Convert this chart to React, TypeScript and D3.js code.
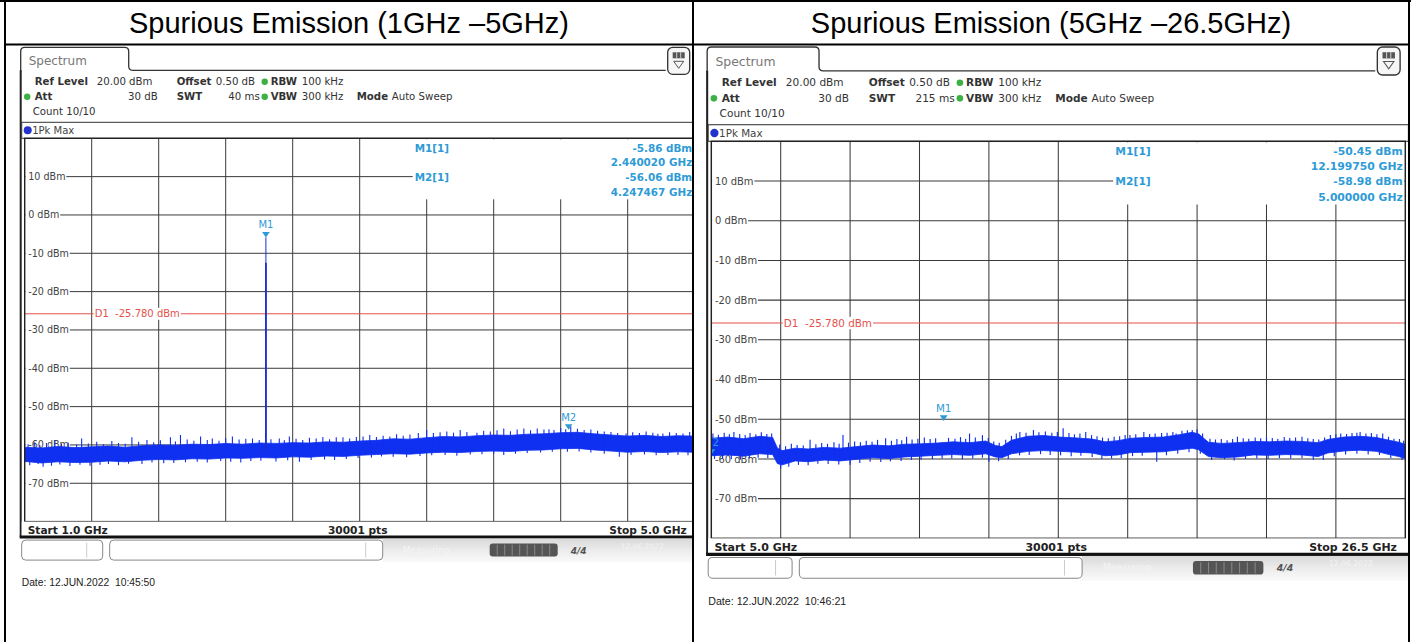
import React from "react";
import * as d3 from "d3";

// ---------------- data ----------------
const titles = ["Spurious Emission (1GHz \u20135GHz)", "Spurious Emission (5GHz \u201326.5GHz)"];
const yTickValues = [10, 0, -10, -20, -30, -40, -50, -60, -70];
const yTickLabels = ["10 dBm", "0 dBm", "-10 dBm", "-20 dBm", "-30 dBm", "-40 dBm", "-50 dBm", "-60 dBm", "-70 dBm"];
const refLevelDbm = 20;
const bottomDbm = -80;
const displayLineDbm = -25.78;
const displayLineLabel = "D1  -25.780 dBm";

// Left sweep 1–5 GHz
const leftSpan = [1.0, 5.0];
const leftBandFreq = [1.0, 1.1, 1.2, 1.3, 1.4, 1.5, 1.6, 1.7, 1.8, 1.9, 2.0, 2.1, 2.2, 2.3, 2.4, 2.5, 2.6, 2.7, 2.8, 2.9, 3.0, 3.1, 3.2, 3.3, 3.4, 3.5, 3.6, 3.7, 3.8, 3.9, 4.0, 4.1, 4.2, 4.3, 4.4, 4.5, 4.6, 4.7, 4.8, 4.9, 5.0];
const leftBandTop = [-60.6, -60.8, -60.4, -60.7, -60.5, -60.3, -60.6, -60.2, -60.0, -60.1, -59.8, -59.9, -59.6, -59.8, -59.5, -59.6, -59.4, -59.5, -59.2, -59.3, -59.0, -58.8, -58.4, -58.5, -58.1, -57.8, -57.9, -57.6, -57.4, -57.5, -57.2, -57.1, -56.8, -56.7, -57.1, -57.4, -57.7, -57.5, -57.8, -57.6, -57.7];
const leftBandBottom = [-64.3, -64.7, -64.4, -64.6, -64.5, -64.2, -64.4, -64.0, -63.8, -63.9, -63.6, -63.7, -63.4, -63.5, -63.3, -63.4, -63.1, -63.2, -62.9, -63.0, -62.7, -62.5, -62.3, -62.4, -62.1, -61.9, -62.0, -61.7, -61.6, -61.7, -61.4, -61.3, -61.0, -60.9, -61.3, -61.6, -61.9, -61.7, -62.0, -61.8, -61.9];
const leftUpFreq = [1.02, 1.06, 1.09, 1.13, 1.18, 1.22, 1.26, 1.31, 1.34, 1.38, 1.43, 1.47, 1.52, 1.56, 1.6, 1.64, 1.68, 1.73, 1.77, 1.81, 1.87, 1.9, 1.93, 1.97, 2.01, 2.05, 2.09, 2.12, 2.16, 2.2, 2.24, 2.28, 2.32, 2.36, 2.4, 2.47, 2.52, 2.55, 2.58, 2.62, 2.66, 2.7, 2.74, 2.78, 2.82, 2.86, 2.9, 2.94, 2.98, 3.02, 3.06, 3.1, 3.14, 3.18, 3.22, 3.26, 3.3, 3.35, 3.4, 3.44, 3.48, 3.52, 3.56, 3.6, 3.64, 3.7, 3.74, 3.78, 3.82, 3.86, 3.9, 3.94, 3.98, 4.02, 4.06, 4.1, 4.13, 4.16, 4.2, 4.23, 4.26, 4.3, 4.34, 4.38, 4.42, 4.46, 4.5, 4.54, 4.59, 4.63, 4.67, 4.71, 4.75, 4.78, 4.81, 4.85, 4.89, 4.93, 4.97];
const leftUpLevel = [-59.8, -59.3, -60.0, -59.5, -58.9, -59.7, -59.4, -59.9, -58.3, -59.6, -59.2, -59.8, -59.0, -59.5, -59.7, -58.0, -59.2, -58.7, -59.3, -58.8, -58.0, -59.1, -57.4, -58.6, -58.9, -57.8, -58.7, -58.3, -58.9, -58.2, -57.8, -58.6, -58.4, -58.3, -58.7, -58.5, -58.3, -58.8, -57.8, -58.4, -58.7, -58.1, -58.3, -57.9, -58.5, -58.0, -58.0, -58.3, -57.9, -57.8, -57.4, -57.9, -57.6, -57.8, -57.2, -57.6, -57.3, -56.9, -56.1, -56.9, -56.7, -56.5, -56.8, -56.1, -56.6, -56.8, -56.3, -56.5, -56.2, -55.7, -56.4, -56.0, -55.7, -56.2, -55.7, -56.0, -55.9, -56.1, -55.6, -55.9, -55.2, -55.8, -56.1, -56.0, -56.3, -56.5, -56.6, -56.9, -57.0, -56.7, -56.9, -56.5, -56.8, -57.1, -57.0, -56.7, -56.9, -57.0, -56.6];
const leftDownFreq = [1.03, 1.08, 1.11, 1.16, 1.21, 1.27, 1.33, 1.39, 1.45, 1.5, 1.56, 1.62, 1.7, 1.76, 1.83, 1.89, 1.96, 2.03, 2.09, 2.17, 2.23, 2.29, 2.35, 2.41, 2.5, 2.57, 2.64, 2.71, 2.79, 2.85, 2.92, 2.99, 3.07, 3.13, 3.2, 3.28, 3.36, 3.43, 3.51, 3.58, 3.66, 3.73, 3.8, 3.86, 3.93, 4.0, 4.08, 4.15, 4.24, 4.31, 4.38, 4.46, 4.55, 4.62, 4.7, 4.77, 4.84, 4.9, 4.96];
const leftDownLevel = [-65.3, -65.0, -65.7, -65.4, -65.1, -65.5, -65.2, -65.4, -65.2, -65.0, -65.3, -64.9, -65.0, -64.6, -64.8, -64.7, -64.5, -64.4, -64.6, -64.2, -64.4, -64.6, -64.2, -64.1, -64.3, -64.0, -64.4, -63.9, -63.8, -63.9, -63.7, -63.4, -63.3, -63.0, -63.1, -63.2, -62.9, -62.7, -62.6, -62.8, -62.5, -62.4, -62.3, -62.6, -62.3, -62.1, -62.0, -61.8, -61.8, -61.7, -62.0, -62.3, -63.1, -62.6, -62.5, -62.7, -62.6, -62.6, -62.7];
const leftPeakFreq = 2.44002;
const leftPeakLevel = -5.86;
const leftPeakShoulder = -12.5;
const leftMarkerFreq = [2.44002, 4.247467];
const leftMarkerLevel = [-5.86, -56.06];
const leftMarkerText = [["-5.86 dBm", "2.440020 GHz"], ["-56.06 dBm", "4.247467 GHz"]];

// Right sweep 5–26.5 GHz
const rightSpan = [5.0, 26.5];
const rightBandFreq = [5.0, 5.5, 6.0, 6.5, 6.9, 7.05, 7.2, 7.6, 8.0, 8.5, 9.0, 9.5, 10.0, 10.5, 11.0, 11.5, 12.0, 12.5, 13.0, 13.5, 13.8, 14.0, 14.3, 14.8, 15.3, 15.8, 16.3, 16.8, 17.2, 17.6, 18.0, 18.5, 19.0, 19.5, 19.9, 20.1, 20.4, 20.8, 21.3, 21.8, 22.3, 22.8, 23.3, 23.8, 24.1, 24.6, 25.1, 25.6, 26.0, 26.3, 26.5];
const rightBandTop = [-54.8, -54.5, -54.9, -54.3, -54.6, -57.3, -57.9, -57.3, -57.5, -57.1, -57.3, -56.9, -56.5, -56.7, -56.3, -56.2, -56.0, -55.7, -55.9, -55.5, -56.6, -56.9, -55.3, -54.3, -54.1, -54.5, -54.7, -55.0, -55.7, -55.4, -54.8, -54.6, -54.5, -53.9, -53.3, -53.7, -55.8, -56.1, -55.9, -55.6, -55.7, -55.5, -55.6, -55.9, -55.1, -54.5, -54.3, -54.6, -55.3, -55.8, -56.3];
const rightBandBottom = [-59.2, -59.0, -59.3, -58.7, -58.9, -61.2, -61.5, -60.5, -60.7, -60.3, -60.5, -60.1, -59.7, -59.9, -59.5, -59.3, -59.1, -58.9, -59.1, -58.7, -59.5, -59.7, -58.7, -58.1, -57.9, -58.1, -58.3, -58.5, -59.2, -59.0, -58.4, -58.3, -58.2, -57.7, -57.3, -57.7, -59.4, -59.7, -59.5, -59.0, -59.1, -58.9, -59.0, -59.4, -58.5, -58.0, -57.8, -58.1, -58.9, -59.4, -59.9];
const rightUpFreq = [5.05, 5.22, 5.4, 5.56, 5.7, 5.88, 6.05, 6.2, 6.38, 6.55, 6.72, 6.87, 7.12, 7.3, 7.48, 7.66, 7.85, 8.06, 8.24, 8.42, 8.6, 8.8, 8.96, 9.08, 9.25, 9.44, 9.62, 9.8, 9.98, 10.15, 10.4, 10.58, 10.75, 10.9, 11.05, 11.22, 11.4, 11.6, 11.78, 11.95, 12.35, 12.55, 12.72, 12.88, 13.0, 13.18, 13.4, 13.58, 13.75, 13.92, 14.12, 14.3, 14.45, 14.56, 14.75, 14.98, 15.15, 15.35, 15.55, 15.72, 15.9, 16.08, 16.25, 16.42, 16.6, 16.78, 16.95, 17.12, 17.3, 17.48, 17.65, 17.82, 17.97, 18.15, 18.4, 18.58, 18.75, 18.95, 19.12, 19.3, 19.4, 19.58, 19.75, 19.9, 20.05, 20.22, 20.45, 20.62, 20.8, 20.98, 21.15, 21.3, 21.48, 21.65, 21.85, 22.02, 22.2, 22.38, 22.55, 22.75, 22.92, 23.1, 23.3, 23.48, 23.65, 23.82, 24.0, 24.18, 24.35, 24.5, 24.68, 24.85, 25.0, 25.1, 25.28, 25.45, 25.62, 25.8, 25.98, 26.15, 26.32, 26.45];
const rightUpLevel = [-53.6, -53.9, -53.4, -53.8, -53.2, -53.7, -54.0, -53.5, -53.8, -53.3, -53.7, -53.6, -56.4, -56.8, -56.2, -56.5, -56.6, -55.2, -56.3, -56.0, -56.2, -55.8, -56.2, -54.0, -55.9, -55.6, -55.8, -55.4, -55.7, -55.2, -54.8, -55.4, -55.0, -55.3, -54.4, -55.1, -54.9, -54.6, -55.0, -54.8, -54.7, -54.9, -54.5, -54.9, -53.6, -54.6, -54.0, -54.7, -55.6, -55.9, -55.2, -54.2, -53.6, -53.2, -53.4, -52.7, -53.3, -53.1, -53.4, -53.2, -52.3, -53.5, -53.8, -53.6, -53.2, -54.0, -54.3, -54.6, -54.8, -54.4, -54.3, -54.0, -54.0, -53.8, -53.2, -53.7, -53.6, -53.5, -53.4, -53.2, -53.6, -52.9, -52.8, -52.7, -52.5, -53.6, -54.9, -55.1, -55.0, -55.3, -55.0, -54.4, -54.8, -54.9, -54.6, -54.8, -54.4, -54.7, -54.9, -54.5, -54.7, -54.6, -54.4, -54.8, -55.0, -55.1, -54.6, -54.0, -53.8, -53.6, -53.7, -53.5, -53.4, -53.2, -53.6, -53.5, -53.8, -53.6, -54.4, -54.9, -55.0, -55.4];
const rightDownFreq = [5.1, 5.35, 5.62, 5.9, 6.18, 6.45, 6.75, 7.15, 7.4, 7.7, 8.0, 8.3, 8.62, 8.95, 9.3, 9.6, 9.92, 10.25, 10.55, 10.88, 11.2, 11.5, 11.85, 12.15, 12.45, 12.78, 13.1, 13.4, 13.6, 13.9, 14.2, 14.55, 14.85, 15.2, 15.5, 15.82, 16.15, 16.45, 16.8, 17.1, 17.4, 17.7, 18.05, 18.35, 18.8, 19.1, 19.45, 19.8, 20.15, 20.5, 20.9, 21.2, 21.55, 21.9, 22.25, 22.6, 22.95, 23.3, 23.65, 23.96, 24.3, 24.65, 25.0, 25.35, 25.7, 26.05, 26.4];
const rightDownLevel = [-60.0, -59.9, -60.1, -60.2, -59.8, -59.7, -59.8, -62.4, -62.0, -61.5, -61.6, -61.2, -61.3, -61.4, -61.5, -61.0, -60.7, -60.8, -60.6, -60.5, -60.3, -60.2, -60.0, -59.9, -59.9, -60.1, -59.9, -59.7, -60.7, -60.6, -60.0, -59.1, -59.0, -58.8, -59.0, -59.1, -59.3, -59.2, -59.5, -60.0, -59.9, -59.8, -59.3, -59.2, -60.7, -59.1, -58.7, -58.3, -58.7, -60.3, -60.1, -60.4, -60.0, -59.9, -60.0, -59.8, -59.9, -59.8, -60.2, -60.3, -59.3, -58.9, -58.7, -58.9, -59.0, -59.8, -60.3];
const rightMarkerFreq = [12.19975, 5.0];
const rightMarkerLevel = [-50.45, -58.98];
const rightMarkerText = [["-50.45 dBm", "12.199750 GHz"], ["-58.98 dBm", "5.000000 GHz"]];

// ---------------- style ----------------
const W = 670;
const H = 383.3;
const FONT = "'DejaVu Sans', Verdana, sans-serif";
const ARIAL = "'Liberation Sans', Arial, sans-serif";
const MK = "#2e9bd6";
const TRACE = "#1030f0";
const RED = "#e4514b";
const GRID = "#3a3a3a";
const GREEN = "#3cb043";

function labelWidth(s: string, fs: number) {
  let w = 0;
  for (const c of s) {
    if (c >= "0" && c <= "9") w += 0.636;
    else if (c === "-") w += 0.361;
    else if (c === " ") w += 0.318;
    else if (c === "d") w += 0.635;
    else if (c === "B") w += 0.686;
    else if (c === "m") w += 0.974;
    else if (c === "D") w += 0.77;
    else if (c === ".") w += 0.318;
    else w += 0.6;
  }
  return w * fs;
}

function Screen(props: any) {
  const c = props.cfg;
  const x = d3.scaleLinear().domain(c.span).range([0, W]);
  const y = d3.scaleLinear().domain([bottomDbm, refLevelDbm]).range([H, 0]);
  const idx = c.bandFreq.map((_: number, i: number) => i);
  const bandPath = d3
    .area<number>()
    .x((i) => x(c.bandFreq[i]))
    .y0((i) => y(c.bandBottom[i]))
    .y1((i) => y(c.bandTop[i]))(idx) as string;
  const midAt = d3
    .scaleLinear()
    .domain(c.bandFreq)
    .range(c.bandFreq.map((_: number, i: number) => (c.bandTop[i] + c.bandBottom[i]) / 2))
    .clamp(true);
  const vx = d3.range(1, 10).map((i) => (W / 10) * i);
  const clipId = "plotclip-" + c.id;
  const labelFs = 9.6;
  const rows = { r1: -53, r2: -38, r3: -23 };
  const bold = { fontWeight: 700 };

  return (
    <g transform={`translate(${props.tx},${props.ty}) scale(${props.s})`} fontFamily={FONT}>
      <defs>
        <clipPath id={clipId}>
          <rect x={0} y={0} width={W} height={H} />
        </clipPath>
        <linearGradient id={"stat-" + c.id} x1="0" y1="0" x2="0" y2="1">
          <stop offset="0" stopColor="#d9d9d9" />
          <stop offset="0.5" stopColor="#ececec" />
          <stop offset="1" stopColor="#fafafa" />
        </linearGradient>
      </defs>

      {/* tab */}
      <path
        d={`M-4,-66 L-4,-87 Q-4,-91 0,-91 L100,-91 Q104,-91 104,-87 L104,-72 Q104,-68 108,-68 L641,-68`}
        fill="none"
        stroke="#333"
        strokeWidth={1.3}
      />
      <text x={4} y={-73} fontSize={12} fill="#777">Spectrum</text>
      {/* icon */}
      <rect x={643} y={-91} width={22} height={27} rx={5} fill="#f6f6f6" stroke="#333" strokeWidth={1.3} />
      <rect x={648} y={-86} width={12} height={6} fill="#555" />
      <line x1={652} x2={652} y1={-86} y2={-80} stroke="#eee" strokeWidth={0.8} />
      <line x1={656} x2={656} y1={-86} y2={-80} stroke="#eee" strokeWidth={0.8} />
      <path d="M649,-77 L659,-77 L654,-70 Z" fill="none" stroke="#555" strokeWidth={1} />

      {/* frame */}
      <line x1={-4} x2={-4} y1={-68} y2={399} stroke="#222" strokeWidth={2} />
      <line x1={W + 4} x2={W + 4} y1={-64} y2={399} stroke="#222" strokeWidth={2} />

      {/* header rows */}
      <g fontSize={10.2} fill="#333">
        <text x={10} y={rows.r1} style={bold}>Ref Level</text>
        <text x={72} y={rows.r1}>20.00 dBm</text>
        <text x={152} y={rows.r1} style={bold}>Offset</text>
        <text x={191} y={rows.r1}>0.50 dB</text>
        <circle cx={240} cy={rows.r1 - 3.5} r={3.2} fill={GREEN} />
        <text x={246} y={rows.r1} style={bold}>RBW</text>
        <text x={277} y={rows.r1}>100 kHz</text>

        <circle cx={2.5} cy={rows.r2 - 3.5} r={3.2} fill={GREEN} />
        <text x={10} y={rows.r2} style={bold}>Att</text>
        <text x={133} y={rows.r2} textAnchor="end">30 dB</text>
        <text x={152} y={rows.r2} style={bold}>SWT</text>
        <text x={235} y={rows.r2} textAnchor="end">{c.swt}</text>
        <circle cx={240} cy={rows.r2 - 3.5} r={3.2} fill={GREEN} />
        <text x={246} y={rows.r2} style={bold}>VBW</text>
        <text x={277} y={rows.r2}>300 kHz</text>
        <text x={332} y={rows.r2} style={bold}>Mode</text>
        <text x={367} y={rows.r2}>Auto Sweep</text>

        <text x={8} y={rows.r3}>Count 10/10</text>
      </g>

      {/* 1Pk Max bar */}
      <rect x={-3} y={-16} width={W + 6} height={16} fill="white" stroke="#333" strokeWidth={1} />
      <circle cx={3} cy={-8} r={4} fill="#2233cc" />
      <text x={7.5} y={-4} fontSize={10} fill="#444">1Pk Max</text>

      {/* plot */}
      <rect x={0} y={0} width={W} height={H} fill="white" />
      {vx.map((v, i) => (
        <line key={"v" + i} x1={v} x2={v} y1={0} y2={H} stroke={GRID} strokeWidth={1} />
      ))}
      {yTickValues.map((v, i) => (
        <line key={"h" + i} x1={0} x2={W} y1={y(v)} y2={y(v)} stroke={GRID} strokeWidth={1} />
      ))}
      {/* marker info area */}
      <rect x={388} y={1} width={W - 389} height={60} fill="white" />
      {/* y labels */}
      {yTickLabels.map((t, i) => (
        <g key={"yl" + i}>
          <rect x={0.8} y={y(yTickValues[i]) - 6} width={labelWidth(t, labelFs) + 3.5} height={12} fill="white" />
          <text x={3.5} y={y(yTickValues[i]) + 3.5} fontSize={labelFs} fill="#444">
            {t}
          </text>
        </g>
      ))}
      {/* display line */}
      <line x1={0} x2={W} y1={y(displayLineDbm)} y2={y(displayLineDbm)} stroke={RED} strokeWidth={1} />
      <rect x={W / 10 + 2} y={y(displayLineDbm) - 6} width={labelWidth(displayLineLabel, 10) + 2} height={12} fill="white" />
      <text x={W / 10 + 3} y={y(displayLineDbm) + 3.5} fontSize={10} fill={RED} style={{ whiteSpace: "pre" }}>
        {displayLineLabel}
      </text>

      {/* trace */}
      <g clipPath={`url(#${clipId})`}>
        <path d={bandPath} fill={TRACE} stroke={TRACE} strokeWidth={0.8} />
        {c.upFreq.map((f: number, i: number) => (
          <line key={"u" + i} x1={x(f)} x2={x(f)} y1={y(c.upLevel[i])} y2={y(midAt(f))} stroke={TRACE} strokeWidth={1.1} />
        ))}
        {c.downFreq.map((f: number, i: number) => (
          <line key={"d" + i} x1={x(f)} x2={x(f)} y1={y(c.downLevel[i])} y2={y(midAt(f))} stroke={TRACE} strokeWidth={1.1} />
        ))}
        {c.peak && (
          <g>
            <line x1={x(c.peak.f)} x2={x(c.peak.f)} y1={y(c.peak.level)} y2={y(midAt(c.peak.f))} stroke="#1a2fd0" strokeWidth={1} />
            <line x1={x(c.peak.f)} x2={x(c.peak.f)} y1={y(c.peak.shoulder)} y2={y(midAt(c.peak.f))} stroke="#1a2fd0" strokeWidth={1.8} />
          </g>
        )}
        {/* markers */}
        {c.markerFreq.map((f: number, i: number) => {
          const mx = x(f);
          const my = y(c.markerLevel[i]);
          return (
            <g key={"m" + i}>
              <path d={`M${mx - 3.8},${my - 5.5} L${mx + 3.8},${my - 5.5} L${mx},${my} Z`} fill={MK} />
              <text x={mx} y={my - 9} fontSize={10} fill={MK} textAnchor="middle">
                {"M" + (i + 1)}
              </text>
            </g>
          );
        })}
      </g>

      {/* marker info */}
      <g fontSize={10.4} fill={MK} style={bold}>
        <text x={390} y={13.3}>M1[1]</text>
        <text x={390} y={42.3}>M2[1]</text>
        <text x={667.5} y={13.3} textAnchor="end">{c.markerText[0][0]}</text>
        <text x={667.5} y={28} textAnchor="end">{c.markerText[0][1]}</text>
        <text x={667.5} y={42.3} textAnchor="end">{c.markerText[1][0]}</text>
        <text x={667.5} y={57.3} textAnchor="end">{c.markerText[1][1]}</text>
      </g>

      <rect x={0} y={0} width={W} height={H} fill="none" stroke="#222" strokeWidth={1.4} />

      {/* bottom row */}
      <rect x={-3} y={H} width={W + 6} height={15} fill="white" />
      <g fontSize={10.6} fill="#222" style={bold}>
        <text x={3} y={H + 12}>{c.startLabel}</text>
        <text x={333} y={H + 12} textAnchor="middle">30001 pts</text>
        <text x={662} y={H + 12} textAnchor="end">{c.stopLabel}</text>
      </g>
      <line x1={-5} x2={W + 5} y1={H + 15.5} y2={H + 15.5} stroke="#111" strokeWidth={3} />

      {/* status bar */}
      <rect x={358} y={H + 17} width={W - 354} height={24} fill={`url(#stat-${c.id})`} />
      <rect x={-3} y={H + 18.5} width={81} height={20} rx={4} fill="white" stroke="#888" strokeWidth={1} />
      <line x1={62} x2={62} y1={H + 21} y2={H + 36} stroke="#ccc" strokeWidth={1} />
      <rect x={85} y={H + 18.5} width={273} height={20} rx={4} fill="white" stroke="#888" strokeWidth={1} />
      <line x1={341} x2={341} y1={H + 21} y2={H + 36} stroke="#ccc" strokeWidth={1} />
      <text x={378} y={H + 31} fontSize={9} fill="#f4f4f4">Measuring...</text>
      <rect x={465} y={H + 22} width={68} height={13} rx={3} fill="#555" />
      {d3.range(1, 9).map((k) => (
        <line key={"pb" + k} x1={465 + k * 7.5} x2={465 + k * 7.5} y1={H + 23} y2={H + 34} stroke="#888" strokeWidth={1} />
      ))}
      <text x={546} y={H + 32} fontSize={9} fill="#555" style={{ fontStyle: "italic", fontWeight: 700 }}>4/4</text>
      <text x={596} y={H + 27} fontSize={7.5} fill="#f4f4f4">12.06.2022</text>

      <text x={-3} y={448} fontSize={10.3} fill="#222" fontFamily={ARIAL} style={{ whiteSpace: "pre" }}>
        {c.date}
      </text>
    </g>
  );
}

const leftCfg = {
  id: "L",
  span: leftSpan,
  swt: "40 ms",
  bandFreq: leftBandFreq,
  bandTop: leftBandTop,
  bandBottom: leftBandBottom,
  upFreq: leftUpFreq,
  upLevel: leftUpLevel,
  downFreq: leftDownFreq,
  downLevel: leftDownLevel,
  peak: { f: leftPeakFreq, level: leftPeakLevel, shoulder: leftPeakShoulder },
  markerFreq: leftMarkerFreq,
  markerLevel: leftMarkerLevel,
  markerText: leftMarkerText,
  startLabel: "Start 1.0 GHz",
  stopLabel: "Stop 5.0 GHz",
  date: "Date: 12.JUN.2022  10:45:50",
};

const rightCfg = {
  id: "R",
  span: rightSpan,
  swt: "215 ms",
  bandFreq: rightBandFreq,
  bandTop: rightBandTop,
  bandBottom: rightBandBottom,
  upFreq: rightUpFreq,
  upLevel: rightUpLevel,
  downFreq: rightDownFreq,
  downLevel: rightDownLevel,
  peak: null,
  markerFreq: rightMarkerFreq,
  markerLevel: rightMarkerLevel,
  markerText: rightMarkerText,
  startLabel: "Start 5.0 GHz",
  stopLabel: "Stop 26.5 GHz",
  date: "Date: 12.JUN.2022  10:46:21",
};

export default function App() {
  const width = 1411;
  const height = 642;
  return (
    <svg
      width={width}
      height={height}
      style={{ position: "absolute", left: 0, top: 0, background: "white" }}
    >
      <defs>
        <clipPath id="cellL">
          <rect x={6} y={45} width={687} height={597} />
        </clipPath>
        <clipPath id="cellR">
          <rect x={694} y={45} width={714} height={597} />
        </clipPath>
      </defs>
      <rect x={0} y={0} width={width} height={height} fill="white" />
      <text x={349} y={33} fontSize={29} fontFamily={ARIAL} textAnchor="middle" fill="#000">
        {titles[0]}
      </text>
      <text x={1051} y={33} fontSize={29} fontFamily={ARIAL} textAnchor="middle" fill="#000">
        {titles[1]}
      </text>
      <g clipPath="url(#cellL)">
        <Screen cfg={leftCfg} tx={24.7} ty={138.3} s={1} />
      </g>
      <g clipPath="url(#cellR)">
        <Screen cfg={rightCfg} tx={711.3} ty={141.3} s={1.0358} />
      </g>
      {/* table lines */}
      <line x1={0} x2={width} y1={1} y2={1} stroke="#000" strokeWidth={2} />
      <line x1={5} x2={1410} y1={44.5} y2={44.5} stroke="#000" strokeWidth={2} />
      <line x1={5} x2={5} y1={0} y2={height} stroke="#000" strokeWidth={2} />
      <line x1={693} x2={693} y1={0} y2={height} stroke="#000" strokeWidth={2} />
      <line x1={1409} x2={1409} y1={0} y2={height} stroke="#000" strokeWidth={2} />
    </svg>
  );
}
